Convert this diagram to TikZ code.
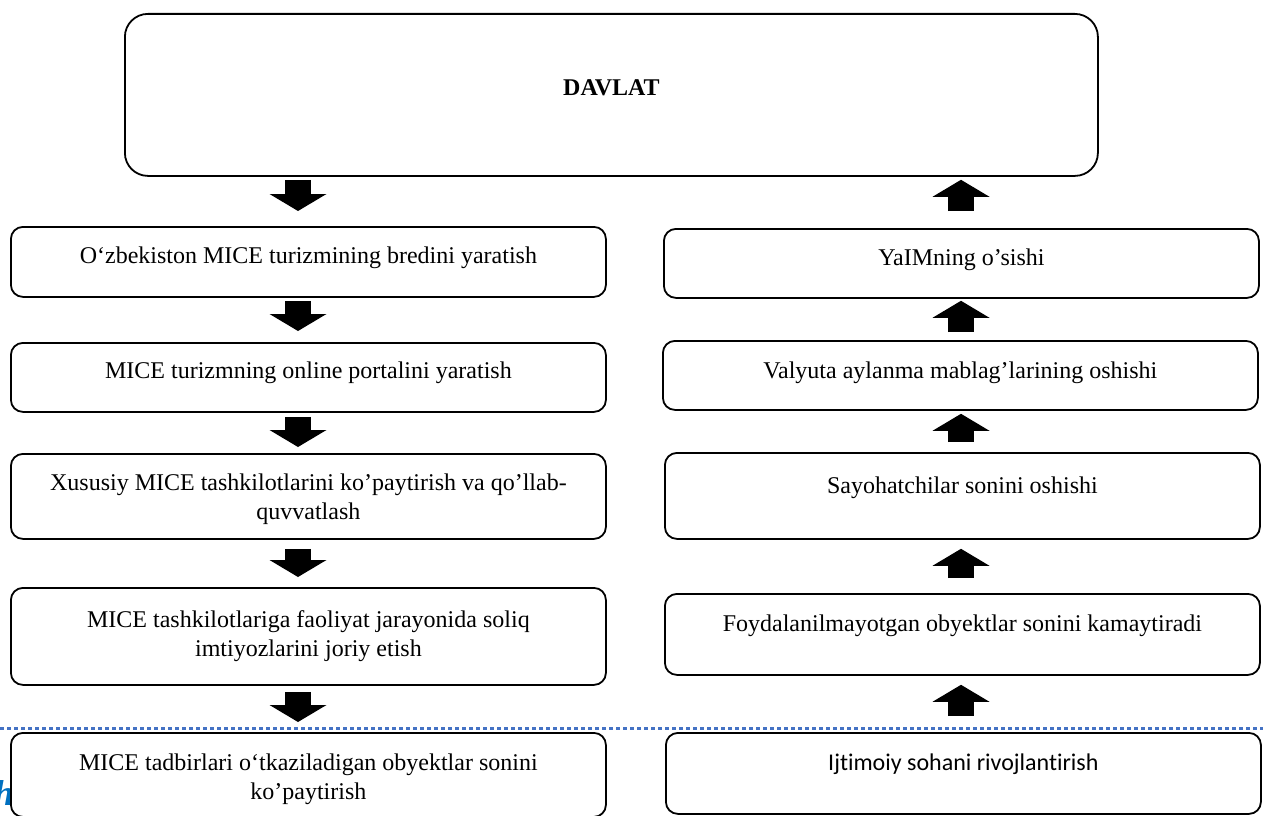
\documentclass[tikz,border=0pt]{standalone}
\usepackage{fontspec}
\setmainfont{Liberation Serif}
\newfontfamily\carlito[Ligatures={NoCommon,NoRequired,NoContextual}]{Carlito}
\usetikzlibrary{positioning,arrows.meta}
\definecolor{pageblue}{RGB}{68,114,196}
\definecolor{headblue}{RGB}{0,112,192}

\begin{document}
\begin{tikzpicture}[
    x=1pt, y=-1pt,
    box/.style={draw, line width=1.8pt, rounded corners=12pt, fill=white,
      minimum width=595pt, anchor=north west},
    txt/.style={inner sep=0pt, align=center, font=\fontsize{24}{29}\selectfont},
    fatarrow/.style={line width=26pt,
      -{Triangle[width=57pt,length=17pt,line width=0pt]}},
  ]
  \useasboundingbox (0,0) rectangle (1263,816);
  \coordinate (lcol) at (298,0);
  \coordinate (rcol) at (961,0);
  \draw[line width=3pt, pageblue, dash pattern=on 4pt off 3pt] (0,728) -- (1263,728);
  \node[anchor=base east, inner sep=0pt, text=headblue,
    font=\fontsize{36}{36}\selectfont\bfseries\itshape] (hpart) at (14,805) {h};

  \node[box, rounded corners=23pt, minimum width=973pt, minimum height=162pt] (davlat) at (124,13) {};
  \node[txt, font=\fontsize{24}{29}\selectfont\bfseries, below=66pt of davlat.north] (davlatt) {DAVLAT};

  \node[box, minimum height=70pt] (l1) at (10,226) {};
  \node[box, minimum height=69pt] (l2) at (10,342) {};
  \node[box, minimum height=85pt] (l3) at (10,453) {};
  \node[box, minimum height=97pt] (l4) at (10,587) {};
  \node[box, minimum height=84pt] (l5) at (10,732) {};
  \node[txt, below=21pt of l1.north] (l1t) {O‘zbekiston MICE turizmining bredini yaratish};
  \node[txt, below=20pt of l2.north] (l2t) {MICE turizmning online portalini yaratish};
  \node[txt, below=21pt of l3.north] (l3t) {Xususiy MICE tashkilotlarini ko’paytirish va qo’llab-\\quvvatlash};
  \node[txt, below=23pt of l4.north] (l4t) {MICE tashkilotlariga faoliyat jarayonida soliq\\imtiyozlarini joriy etish};
  \node[txt, below=22pt of l5.north] (l5t) {MICE tadbirlari o‘tkaziladigan obyektlar sonini\\ko’paytirish};

  \node[box, minimum height=69pt] (r1) at (663,228) {};
  \node[box, minimum height=69pt] (r2) at (662,340) {};
  \node[box, minimum height=86pt] (r3) at (664,452) {};
  \node[box, minimum height=81pt] (r4) at (664,593) {};
  \node[box, minimum height=81pt] (r5) at (665,732) {};
  \node[txt, below=21pt of r1.north] (r1t) {YaIMning o’sishi};
  \node[txt, below=22pt of r2.north] (r2t) {Valyuta aylanma mablag’larining oshishi};
  \node[txt, below=25pt of r3.north] (r3t) {Sayohatchilar sonini oshishi};
  \node[txt, below=22pt of r4.north] (r4t) {Foydalanilmayotgan obyektlar sonini kamaytiradi};
  \node[txt, font=\fontsize{24}{29}\selectfont\carlito, below=22pt of r5.north] (r5t) {Ijtimoiy sohani rivojlantirish};

  \draw[fatarrow, shorten <=3pt, shorten >=15pt] (davlat.south -| lcol) -- (l1.north -| lcol);
  \draw[fatarrow, shorten <=3pt, shorten >=11pt] (l1.south -| lcol) -- (l2.north -| lcol);
  \draw[fatarrow, shorten <=4pt, shorten >=6pt] (l2.south -| lcol) -- (l3.north -| lcol);
  \draw[fatarrow, shorten <=9pt, shorten >=10pt] (l3.south -| lcol) -- (l4.north -| lcol);
  \draw[fatarrow, shorten <=6pt, shorten >=10pt] (l4.south -| lcol) -- (l5.north -| lcol);

  \draw[fatarrow, shorten <=16pt, shorten >=9pt] (r5.north -| rcol) -- (r4.south -| rcol);
  \draw[fatarrow, shorten <=15pt, shorten >=9pt] (r4.north -| rcol) -- (r3.south -| rcol);
  \draw[fatarrow, shorten <=10pt, shorten >=3pt] (r3.north -| rcol) -- (r2.south -| rcol);
  \draw[fatarrow, shorten <=8pt, shorten >=2pt] (r2.north -| rcol) -- (r1.south -| rcol);
  \draw[fatarrow, shorten <=17pt, shorten >=3pt] (r1.north -| rcol) -- (davlat.south -| rcol);
\end{tikzpicture}
\end{document}
